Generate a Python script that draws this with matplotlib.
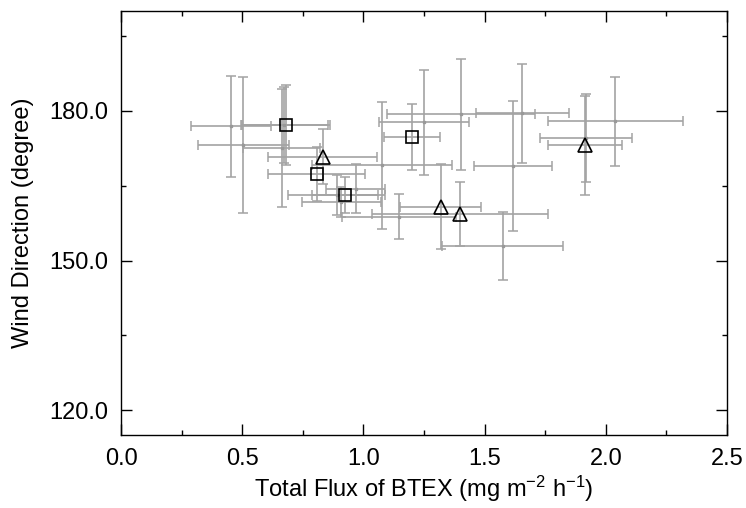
import matplotlib

matplotlib.use("Agg")
import matplotlib.pyplot as plt
from matplotlib.ticker import MultipleLocator, FormatStrFormatter

plt.rcParams["font.family"] = ["Liberation Sans", "DejaVu Sans"]
plt.rcParams["mathtext.default"] = "regular"

# individual samples (gray, with error bars)
flux = [0.454, 0.505, 0.663, 0.674, 0.969, 0.890, 0.908, 1.147, 1.575,
        1.075, 1.250, 1.401, 1.618, 1.656, 1.918, 2.040]
flux_err = [0.166, 0.188, 0.158, 0.180, 0.122, 0.200, 0.163, 0.236, 0.250,
            0.289, 0.184, 0.305, 0.162, 0.191, 0.189, 0.280]
wdir = [176.9, 173.2, 172.6, 177.2, 164.4, 163.2, 161.8, 158.8, 152.9,
        169.1, 177.7, 179.3, 169.0, 179.5, 174.6, 177.9]
wdir_err = [10.1, 13.6, 11.8, 7.6, 4.9, 4.0, 3.0, 4.5, 6.9,
            12.7, 10.5, 11.2, 13.1, 10.0, 8.9, 9.0]

# square group
sq_flux = [0.681, 0.807, 0.924, 1.199]
sq_flux_err = [0.180, 0.200, 0.137, 0.116]
sq_wdir = [177.2, 167.4, 163.2, 174.8]
sq_wdir_err = [8.0, 5.4, 3.6, 6.6]

# triangle group
tri_flux = [0.833, 1.319, 1.398, 1.914]
tri_flux_err = [0.225, 0.168, 0.364, 0.151]
tri_wdir = [170.8, 160.8, 159.4, 173.1]
tri_wdir_err = [5.5, 8.5, 6.4, 9.9]

bar_kw = dict(ecolor="#a3a3a3", elinewidth=1.2, capsize=3.3, capthick=1.1)

fig = plt.figure(figsize=(7.46, 5.08), dpi=100)
ax = fig.add_axes([0.1622, 0.1437, 0.8123, 0.8341])

ax.errorbar(flux, wdir, xerr=flux_err, yerr=wdir_err, fmt="s", ms=2,
            mfc="#999999", mec="#999999", zorder=2, **bar_kw)
ax.errorbar(sq_flux, sq_wdir, xerr=sq_flux_err, yerr=sq_wdir_err, fmt="none",
            zorder=2, **bar_kw)
ax.errorbar(tri_flux, tri_wdir, xerr=tri_flux_err, yerr=tri_wdir_err, fmt="none",
            zorder=2, **bar_kw)
ax.plot(sq_flux, sq_wdir, "s", ms=9, mfc="none", mec="black", mew=1.2, zorder=3)
ax.plot(tri_flux, tri_wdir, "^", ms=10, mfc="none", mec="black", mew=1.2, zorder=3)

ax.set_xlim(0, 2.5)
ax.set_ylim(115, 200)
ax.xaxis.set_major_locator(MultipleLocator(0.5))
ax.xaxis.set_minor_locator(MultipleLocator(0.25))
ax.yaxis.set_major_locator(MultipleLocator(30))
ax.yaxis.set_minor_locator(MultipleLocator(15))
ax.set_yticks([120, 150, 180])
ax.xaxis.set_major_formatter(FormatStrFormatter("%.1f"))
ax.yaxis.set_major_formatter(FormatStrFormatter("%.1f"))

ax.tick_params(which="both", direction="in", top=True, right=True, width=1,
               labelsize=17)
ax.tick_params(which="major", length=7.7)
ax.tick_params(which="minor", length=3.6)
ax.tick_params(axis="x", which="major", pad=9)
ax.tick_params(axis="y", which="major", pad=9)
for s in ax.spines.values():
    s.set_linewidth(1.0)

ax.set_xlabel("Total Flux of BTEX (mg m$^{-2}$ h$^{-1}$)", fontsize=17, labelpad=3)
ax.set_ylabel("Wind Direction (degree)", fontsize=17, labelpad=11)

fig.savefig("out.png", dpi=100)
